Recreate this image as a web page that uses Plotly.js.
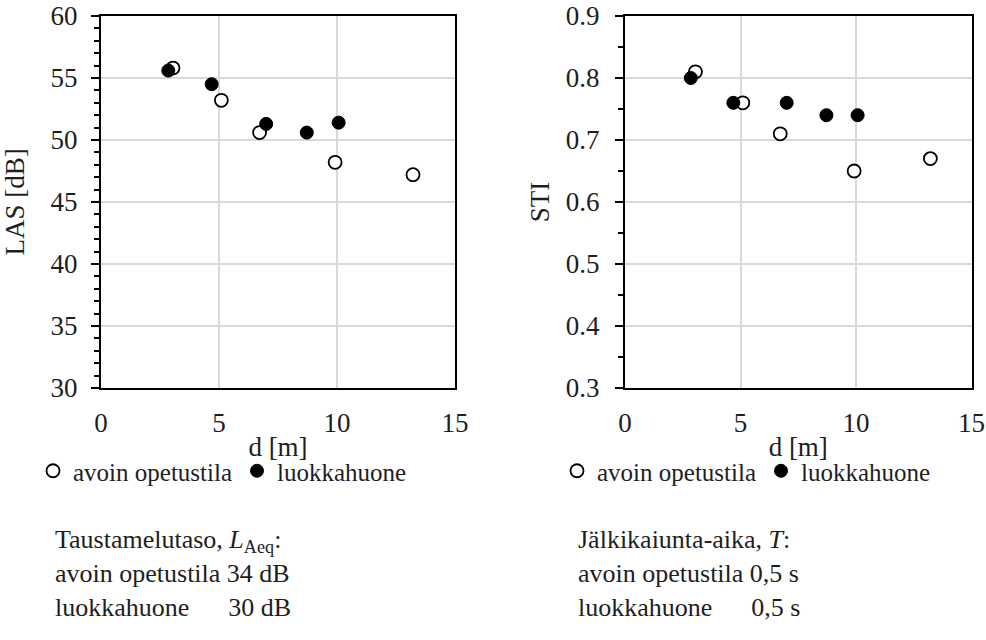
<!DOCTYPE html>
<html>
<head>
<meta charset="utf-8">
<script src="https://cdn.plot.ly/plotly-3.0.1.min.js"></script>
<style>html,body{margin:0;padding:0;background:#fff}#chart{width:986px;height:640px}</style>
</head>
<body>
<div id="chart"></div>
<script>
// Distances d [m]
const dOpen = [3.05, 5.1, 6.72, 9.92, 13.22];
const dClass = [2.85, 4.69, 7.0, 8.72, 10.07];
// LAS [dB]
const lasOpen = [55.8, 53.2, 50.6, 48.2, 47.2];
const lasClass = [55.6, 54.5, 51.3, 50.6, 51.4];
// STI
const stiOpen = [0.81, 0.76, 0.71, 0.65, 0.67];
const stiClass = [0.80, 0.76, 0.76, 0.74, 0.74];
// Series names
const seriesNames = ["avoin opetustila", "luokkahuone"];
// Note texts
const noteLeft = ["Taustamelutaso, <i>L</i><sub>Aeq</sub>:", "avoin opetustila 34 dB", "luokkahuone\u00a0\u00a0\u00a0\u00a0\u00a0\u00a030 dB"];
const noteRight = ["Jälkikaiunta-aika, <i>T</i>:", "avoin opetustila 0,5 s", "luokkahuone\u00a0\u00a0\u00a0\u00a0\u00a0\u00a00,5 s"];

const FONT = "Liberation Serif";
const TXT = "#1e1e1e";
const FS = 27;
const W = 986, H = 640;
const px = v => v / W;
const py = v => (H - v) / H;
const fnt = (s) => ({family: FONT, size: s || FS, color: TXT});

const openMarker = {symbol: "circle", size: 13, color: "#ffffff", line: {color: "#000000", width: 1.8}};
const fillMarker = {symbol: "circle", size: 13, color: "#000000", line: {color: "#000000", width: 1}};

const traces = [
  {x: dOpen, y: lasOpen, name: seriesNames[0], mode: "markers", type: "scatter", marker: openMarker, xaxis: "x", yaxis: "y", legend: "legend"},
  {x: dClass, y: lasClass, name: seriesNames[1], mode: "markers", type: "scatter", marker: fillMarker, xaxis: "x", yaxis: "y", legend: "legend"},
  {x: dOpen, y: stiOpen, name: seriesNames[0], mode: "markers", type: "scatter", marker: openMarker, xaxis: "x2", yaxis: "y2", legend: "legend2"},
  {x: dClass, y: stiClass, name: seriesNames[1], mode: "markers", type: "scatter", marker: fillMarker, xaxis: "x2", yaxis: "y2", legend: "legend2"}
];

const xBase = {
  range: [0, 15], dtick: 5, tick0: 0, showgrid: true, gridcolor: "#d9d9d9", gridwidth: 1.5,
  zeroline: false, showline: true, linecolor: "#000", linewidth: 2, mirror: true,
  ticks: "", ticklabelstandoff: 10, tickfont: fnt(),
  fixedrange: true, automargin: false
};
const yBase = {
  showgrid: true, gridcolor: "#d9d9d9", gridwidth: 1.5, zeroline: false,
  showline: true, linecolor: "#000", linewidth: 2.2, mirror: true,
  ticks: "outside", ticklen: 8, tickwidth: 2, tickcolor: "#000",
  tickfont: fnt(), fixedrange: true, automargin: false
};

const layout = {
  width: W, height: H,
  margin: {l: 0, r: 0, t: 0, b: 0},
  paper_bgcolor: "#fff", plot_bgcolor: "#fff",
  font: fnt(),
  xaxis: Object.assign({}, xBase, {domain: [px(101), px(455)], anchor: "y",
    title: {text: "d [m]", font: fnt(), standoff: 0}}),
  xaxis2: Object.assign({}, xBase, {domain: [px(625), px(971.5)], anchor: "y2",
    title: {text: "d [m]", font: fnt(), standoff: 0}}),
  yaxis: Object.assign({}, yBase, {domain: [py(388), py(16)], anchor: "x", range: [30, 60], dtick: 5,
    minor: {dtick: 1, ticks: "outside", ticklen: 5, tickwidth: 1.5, tickcolor: "#000", showgrid: false},
    ticklabelstandoff: 8,
    title: {text: "LAS [dB]", font: fnt(), standoff: 20}}),
  yaxis2: Object.assign({}, yBase, {domain: [py(388), py(16)], anchor: "x2", range: [0.3, 0.9], dtick: 0.1,
    tickformat: ".1f",
    minor: {dtick: 0.05, ticks: "outside", ticklen: 5, tickwidth: 1.5, tickcolor: "#000", showgrid: false},
    ticklabelstandoff: 10,
    title: {text: "STI", font: fnt(), standoff: 8}}),
  showlegend: true,
  legend: {orientation: "h", x: px(33), y: py(471), xanchor: "left", yanchor: "middle",
    font: fnt(25), bgcolor: "rgba(0,0,0,0)", itemclick: false, itemdoubleclick: false, itemwidth: 30},
  legend2: {orientation: "h", x: px(557), y: py(471), xanchor: "left", yanchor: "middle",
    font: fnt(25), bgcolor: "rgba(0,0,0,0)", itemclick: false, itemdoubleclick: false, itemwidth: 30},
  annotations: [
    {text: noteLeft.join("<br>"), xref: "paper", yref: "paper", x: px(53), y: py(573),
      xanchor: "left", yanchor: "middle", align: "left", showarrow: false, font: fnt(26)},
    {text: noteRight.join("<br>"), xref: "paper", yref: "paper", x: px(576), y: py(573),
      xanchor: "left", yanchor: "middle", align: "left", showarrow: false, font: fnt(26)}
  ]
};

Plotly.newPlot("chart", traces, layout, {displayModeBar: false, responsive: false});
</script>
</body>
</html>
